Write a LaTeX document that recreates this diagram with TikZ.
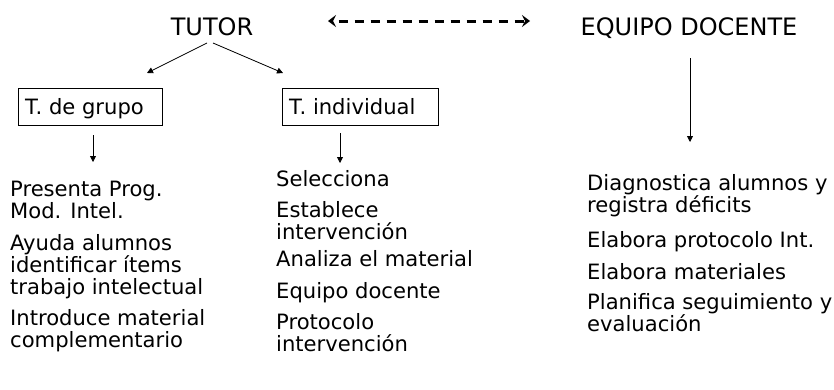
\documentclass[tikz,border=0pt]{standalone}
\usepackage{fontspec}
\setmainfont{DejaVu Sans}
\usetikzlibrary{arrows.meta}
\begin{document}
\begin{tikzpicture}[x=1pt,y=-1pt,
  body/.style={inner sep=0pt,anchor=base west,align=left,font=\fontsize{21.1}{22}\selectfont},
  head/.style={inner sep=0pt,anchor=base,font=\fontsize{24}{26}\selectfont},
  boxed/.style={draw,line width=0.9pt,inner sep=0pt,minimum height=37pt,anchor=north west},
  arr/.style={line width=0.8pt,-{Triangle[length=6pt,width=6pt]}},
  dasharr/.style={line width=3pt,dash pattern=on 9pt off 7pt,dash phase=-6pt,{Stealth[length=8pt,width=12pt,inset=3pt]}-{Stealth[length=8pt,width=12pt,inset=3pt]}}]
\useasboundingbox (0,0) rectangle (834,389);
% headers
\node[head] (tutor) at (212,35) {TUTOR};
\node[head] (equipo) at (689,35) {EQUIPO DOCENTE};
% dashed connector
\coordinate (dl) at (328,21);
\coordinate (dr) at (530,21);
\draw[dasharr] (dl) -- (dr);
% boxes
\node[boxed,minimum width=144pt] (grupo) at (18,88) {};
\node[body] (grupot) at (25,114) {T. de grupo};
\node[boxed,minimum width=156pt] (indiv) at (282,88) {};
\node[body] (indivt) at (289,114) {T. individual};
% tutor arrows
\coordinate (t1) at (207,43);
\coordinate (t2) at (213,43);
\coordinate (g1) at (147,73);
\coordinate (i1) at (283,73);
\draw[arr] (t1) -- (g1);
\draw[arr] (t2) -- (i1);
% small arrows
\coordinate (ga) at (93,135);
\coordinate (gb) at (93,162);
\draw[arr] (ga) -- (gb);
\coordinate (ia) at (340,133);
\coordinate (ib) at (340,163);
\draw[arr] (ia) -- (ib);
\coordinate (ea) at (690,58);
\coordinate (eb) at (690,142);
\draw[arr] (ea) -- (eb);
% left column (anchor = baseline of last line)
\node[body] (l1) at (10,218) {Presenta Prog.\\Mod. Intel.};
\node[body] (l2) at (10,294) {Ayuda alumnos\\identificar ítems\\trabajo intelectual};
\node[body] (l3) at (10,347) {Introduce material\\complementario};
% middle column
\node[body] (m1) at (276,186) {Selecciona};
\node[body] (m2) at (276,239) {Establece\\intervención};
\node[body] (m3) at (276,266) {Analiza el material};
\node[body] (m4) at (276,298) {Equipo docente};
\node[body] (m5) at (276,351) {Protocolo\\intervención};
% right column
\node[body] (r1) at (587,212) {Diagnostica alumnos y\\registra déficits};
\node[body] (r2) at (587,247) {Elabora protocolo Int.};
\node[body] (r3) at (587,279) {Elabora materiales};
\node[body] (r4) at (587,331) {Planifica seguimiento y\\evaluación};
\end{tikzpicture}
\end{document}
